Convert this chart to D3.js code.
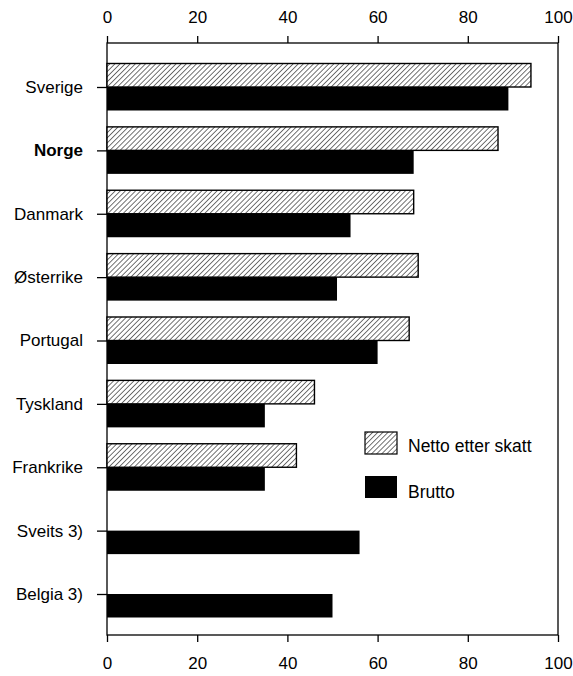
<!DOCTYPE html>
<html><head><meta charset="utf-8">
<script src="https://cdn.jsdelivr.net/npm/d3@7"></script>
<style>body{margin:0;background:#fff}svg{font-family:"Liberation Sans",Arial,Helvetica,sans-serif}</style>
</head><body><svg id="c" width="573" height="676"></svg>
<script>
const countries = ["Sverige","Norge","Danmark","Østerrike","Portugal","Tyskland","Frankrike","Sveits 3)","Belgia 3)"];
const netto = [94, 86.7, 68, 69, 67, 46, 42, null, null];
const brutto = [89, 68, 54, 51, 60, 35, 35, 56, 50];
const xTicks = [0,20,40,60,80,100];
const legendLabels = ["Netto etter skatt","Brutto"];
const boldCountry = "Norge";

(function(){
const svg = d3.select("#c");
const L=107, R=558, T=43, B=635;
const x = d3.scaleLinear().domain([0,100]).range([L,R]);
const y = d3.scalePoint().domain(countries).range([87,594]);
const bh = 23.5;
const FS = 17;

const defs = svg.append("defs");
const pat = defs.append("pattern").attr("id","hatch").attr("patternUnits","userSpaceOnUse")
  .attr("width",3.6).attr("height",3.6).attr("patternTransform","rotate(45)");
pat.append("rect").attr("width",3.6).attr("height",3.6).attr("fill","#fff");
pat.append("line").attr("x1",0).attr("y1",0).attr("x2",0).attr("y2",3.6).attr("stroke","#000").attr("stroke-width",1.1);

svg.append("rect").attr("x",L).attr("y",T).attr("width",R-L).attr("height",B-T)
  .attr("fill","none").attr("stroke","#000").attr("stroke-width",1.3);

const gTop = svg.append("g").attr("transform",`translate(0,${T})`)
  .call(d3.axisTop(x).tickValues(xTicks).tickSize(7).tickPadding(13));
const gBot = svg.append("g").attr("transform",`translate(0,${B})`)
  .call(d3.axisBottom(x).tickValues(xTicks).tickSize(7).tickPadding(15));
const gLeft = svg.append("g").attr("transform",`translate(${L},0)`)
  .call(d3.axisLeft(y).tickSize(10).tickPadding(14));
[gTop,gBot,gLeft].forEach(g=>{
  g.select(".domain").remove();
  g.selectAll(".tick line").attr("stroke","#000").attr("stroke-width",1.3);
  g.selectAll("text").attr("fill","#000").attr("font-size",FS).attr("font-family","'Liberation Sans',Arial,sans-serif");
});
gLeft.selectAll(".tick text").attr("font-weight",d=>d===boldCountry?"bold":"normal");

const data = countries.map((c,i)=>({c, n:netto[i], b:brutto[i]}));
svg.append("g").selectAll("rect").data(data.filter(d=>d.n!=null)).join("rect")
  .attr("x",x(0)).attr("y",d=>y(d.c)-bh).attr("width",d=>x(d.n)-x(0)).attr("height",bh)
  .attr("fill","url(#hatch)").attr("stroke","#000").attr("stroke-width",1.4);
svg.append("g").selectAll("rect").data(data).join("rect")
  .attr("x",x(0)).attr("y",d=>y(d.c)).attr("width",d=>x(d.b)-x(0)).attr("height",bh)
  .attr("fill","#000");

const lg = svg.append("g");
lg.append("rect").attr("x",365).attr("y",432).attr("width",32).attr("height",22)
  .attr("fill","url(#hatch)").attr("stroke","#000").attr("stroke-width",1.2);
lg.append("rect").attr("x",365).attr("y",476).attr("width",32).attr("height",22).attr("fill","#000");
lg.selectAll("text").data(legendLabels).join("text")
  .attr("x",408).attr("y",(d,i)=>446+i*46).attr("dy","0.35em")
  .attr("font-size",17.5).attr("fill","#000").text(d=>d);
})();
</script></body></html>
